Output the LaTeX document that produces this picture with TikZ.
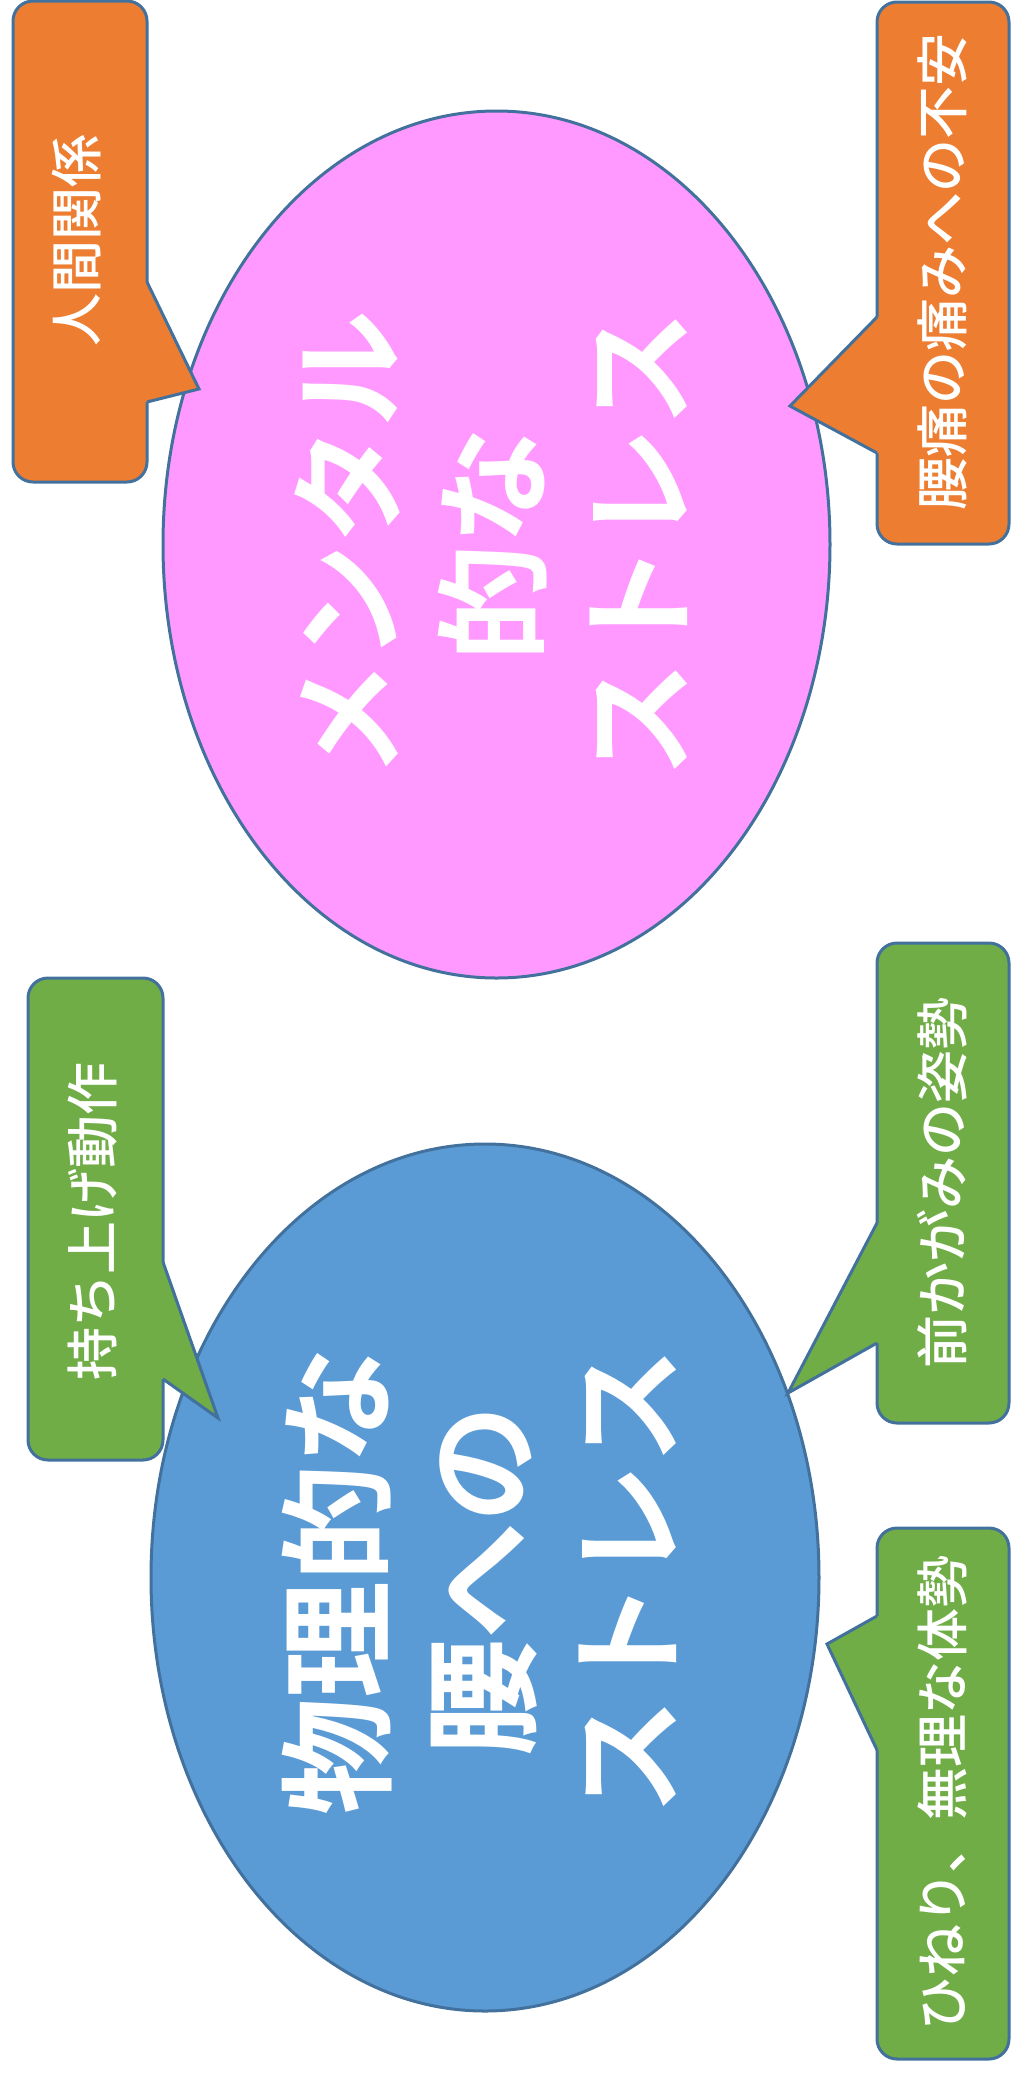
\documentclass[tikz,border=0pt]{standalone}
\usepackage{fontspec}
\setmainfont{Noto Sans CJK JP}[BoldFont={Noto Sans CJK JP Bold}]
\newfontfamily\jpmed{Noto Sans CJK JP Medium}
\usetikzlibrary{shapes.geometric}
\definecolor{edgec}{HTML}{41719C}
\definecolor{orangef}{HTML}{ED7D31}
\definecolor{greenf}{HTML}{70AD47}
\definecolor{bluef}{HTML}{5B9BD5}
\definecolor{pinkf}{HTML}{FF99FF}
\tikzset{
  x=0.5pt, y=-0.5pt,
  bubble/.style={ellipse, draw=edgec, line width=1.5pt, inner sep=0pt, outer sep=0pt},
  bigtxt/.style={rotate=90, text=white, align=center, inner sep=0pt,
    font=\bfseries\fontsize{58.5}{72.5}\selectfont},
  cbox/.style={draw=edgec, line width=1.5pt, rounded corners=10pt},
  cline/.style={draw=edgec, line width=1.5pt, line join=miter},
  ctxt/.style={rotate=90, text=white, inner sep=0pt,
    font=\jpmed\fontsize{26.5}{30}\selectfont},
}
\begin{document}
\begin{tikzpicture}
\useasboundingbox (0,0) rectangle (1011,2073);
% ellipses
\node[bubble, fill=pinkf, minimum width=333.5pt, minimum height=433.5pt] (pink) at (496.5,544.5) {};
\node[bubble, fill=bluef, minimum width=334pt, minimum height=433.5pt] (blue) at (485,1577.5) {};
\node[bigtxt] (pinkt) at (491,544) {メンタル\\的な\\ストレス};
\node[bigtxt] (bluet) at (479,1581) {物理的な\\腰への\\ストレス};

% callout: 人間関係 (orange, tail right)
\draw[cbox, fill=orangef] (13,1) rectangle (147,482);
\fill[orangef] (143,282) -- (147,282) -- (199,389) -- (147,402) -- (143,402) -- cycle;
\draw[cline] (147,282) -- (199,389) -- (147,402);
\node[ctxt] (t1) at (77,240) {人間関係};

% callout: 腰痛の痛みへの不安 (orange, tail left)
\draw[cbox, fill=orangef] (877,2) rectangle (1009,544);
\fill[orangef] (881,317) -- (877,317) -- (790,406) -- (877,453) -- (881,453) -- cycle;
\draw[cline] (877,317) -- (790,406) -- (877,453);
\node[ctxt] (t2) at (942,272) {腰痛の痛みへの不安};

% callout: 持ち上げ動作 (green, tail right)
\draw[cbox, fill=greenf] (28,978) rectangle (163,1460);
\fill[greenf] (159,1262) -- (163,1262) -- (218,1418) -- (163,1379) -- (159,1379) -- cycle;
\draw[cline] (163,1262) -- (218,1418) -- (163,1379);
\node[ctxt] (t3) at (93,1221) {持ち上げ動作};

% callout: 前かがみの姿勢 (green, tail left)
\draw[cbox, fill=greenf] (877,943) rectangle (1009,1423);
\fill[greenf] (881,1223) -- (877,1223) -- (788,1393) -- (877,1343) -- (881,1343) -- cycle;
\draw[cline] (877,1223) -- (788,1393) -- (877,1343);
\node[ctxt] (t4) at (942,1183) {前かがみの姿勢};

% callout: ひねり、無理な体勢 (green, tail left)
\draw[cbox, fill=greenf] (877,1528) rectangle (1009,2059);
\fill[greenf] (881,1616) -- (877,1616) -- (827,1644) -- (877,1750) -- (881,1750) -- cycle;
\draw[cline] (877,1616) -- (827,1644) -- (877,1750);
\node[ctxt] (t5) at (942,1793) {ひねり、無理な体勢};
\end{tikzpicture}
\end{document}
